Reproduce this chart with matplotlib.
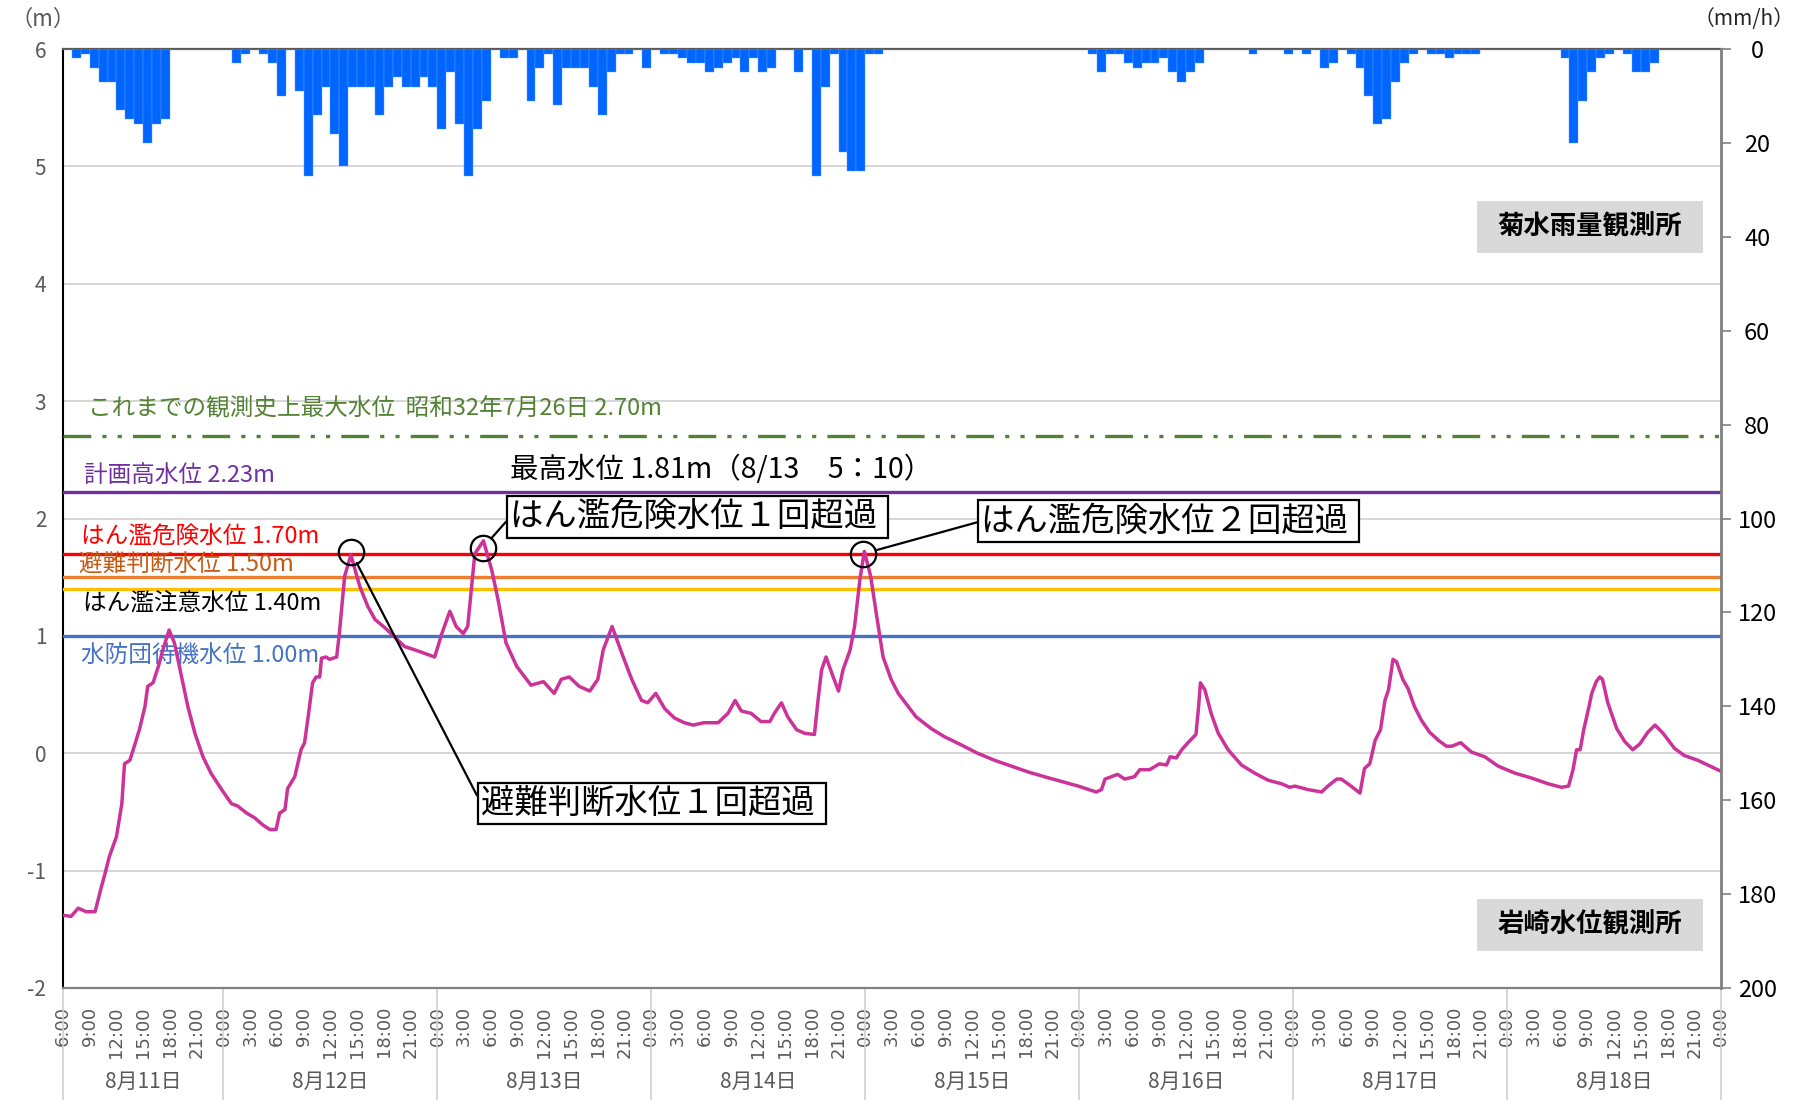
import numpy as np
import matplotlib
matplotlib.use('Agg')
import matplotlib.pyplot as plt
import matplotlib.transforms as mtransforms
from matplotlib.patches import Rectangle

plt.rcParams['font.family'] = ['Noto Sans CJK JP', 'DejaVu Sans']
plt.rcParams['lines.scale_dashes'] = False
plt.rcParams['axes.unicode_minus'] = False

# ---------------- data ----------------
# hourly rainfall (mm/h) at 菊水, hour index from 8/11 6:00
rain = [0, 2, 1, 4, 7, 7, 13, 15, 16, 20,
        16, 15, 0, 0, 0, 0, 0, 0, 0, 3,
        1, 0, 1, 3, 10, 0, 9, 27, 14, 8,
        18, 25, 8, 8, 8, 14, 8, 6, 8, 8,
        6, 8, 17, 5, 16, 27, 17, 11, 0, 2,
        2, 0, 11, 4, 1, 12, 4, 4, 4, 8,
        14, 5, 1, 1, 0, 4, 0, 1, 1, 2,
        3, 3, 5, 4, 3, 2, 5, 2, 5, 4,
        0, 0, 5, 0, 27, 8, 1, 22, 26, 26,
        1, 1, 0, 0, 0, 0, 0, 0, 0, 0,
        0, 0, 0, 0, 0, 0, 0, 0, 0, 0,
        0, 0, 0, 0, 0, 1, 5, 1, 1, 3,
        4, 3, 3, 2, 5, 7, 5, 3, 0, 0,
        0, 0, 0, 1, 0, 0, 0, 1, 0, 1,
        0, 4, 3, 0, 1, 4, 10, 16, 15, 7,
        3, 1, 0, 1, 1, 2, 1, 1, 1, 0,
        0, 0, 0, 0, 0, 0, 0, 0, 2, 20,
        11, 5, 2, 1, 0, 1, 5, 5, 3, 0,
        0, 0, 0, 0, 0, 0]

# water level (m) at 岩崎, hours since 8/11 6:00
level_hours = [0, 0.9, 1.7, 2.6, 3.6, 4.3, 4.7, 5.2, 6.0, 6.6, 6.9, 7.5, 8.0, 8.6, 9.2, 9.5,
               10.1, 10.7, 11.2, 11.9, 12.5, 13.3, 14.0, 14.8, 15.7, 16.6, 17.8, 18.9, 19.6,
               20.6, 21.5, 22.4, 23.2, 23.9, 24.3, 24.9, 25.2, 26.0, 26.7, 27.1, 27.5, 28.0,
               28.4, 28.8, 29.0, 29.5, 29.9, 30.7, 31.0, 31.6, 32.3, 32.7, 33.3, 34.2, 35.0,
               36.1, 37.2, 38.3, 39.5, 40.6, 41.7, 42.5, 43.4, 44.1, 44.9, 45.4, 46.2, 47.17,
               48.1, 48.8, 49.7, 50.9, 51.8, 52.5, 53.9, 55.1, 55.9, 56.8, 57.9, 59.1, 60.0,
               60.6, 61.6, 62.7, 63.8, 64.9, 65.6, 66.5, 67.5, 68.6, 69.7, 70.7, 71.9, 73.5,
               74.6, 75.4, 76.1, 77.2, 78.3, 79.3, 79.8, 80.6, 81.3, 82.3, 83.2, 84.3, 84.7,
               85.1, 85.6, 86.4, 87.0, 87.5, 88.3, 88.8, 89.4, 89.9, 90.6, 91.3, 92.0, 92.9,
               93.7, 94.4, 95.7, 97.4, 98.9, 100.8, 102.6, 104.5, 106.4, 108.3, 110.1, 112.0,
               113.9, 115.9, 116.5, 116.9, 117.6, 118.3, 119.1, 120.2, 120.8, 121.9, 123.0,
               123.8, 124.2, 124.9, 125.5, 126.2, 127.1, 127.4, 127.6, 128.1, 128.8, 129.6,
               130.7, 132.2, 133.7, 135.2, 136.7, 137.6, 138.2, 139.7, 141.2, 141.9, 142.9,
               143.4, 144.5, 145.5, 146.0, 146.6, 147.2, 147.8, 148.3, 148.7, 149.2, 149.6,
               150.3, 150.9, 151.6, 152.4, 153.3, 154.3, 155.2, 155.8, 156.8, 158.0, 159.5,
               161.0, 162.9, 164.7, 166.6, 168.1, 168.9, 169.4, 169.8, 170.2, 170.6, 171.2,
               171.5, 172.0, 172.4, 172.7, 173.3, 174.3, 175.2, 176.1, 176.9, 177.8, 178.6,
               179.5, 180.8, 181.9, 183.4, 184.5, 185.9]
level = [-1.38, -1.39, -1.32, -1.35, -1.35, -1.14, -1.03, -0.88, -0.71, -0.43, -0.09, -0.06,
         0.06, 0.21, 0.40, 0.57, 0.60, 0.74, 0.88, 1.05, 0.94, 0.65, 0.40, 0.17, -0.03, -0.17,
         -0.31, -0.43, -0.45, -0.51, -0.55, -0.61, -0.65, -0.65, -0.51, -0.48, -0.30, -0.20,
         0.03, 0.09, 0.31, 0.60, 0.65, 0.65, 0.81, 0.82, 0.80, 0.82, 1.02, 1.51, 1.69, 1.58,
         1.42, 1.25, 1.14, 1.07, 0.99, 0.91, 0.88, 0.85, 0.82, 1.02, 1.21, 1.08, 1.02, 1.08,
         1.70, 1.81,
         1.56, 1.31, 0.94, 0.74, 0.65, 0.58, 0.61, 0.51, 0.63, 0.65, 0.57, 0.53, 0.63,
         0.88, 1.08, 0.85, 0.63, 0.45, 0.43, 0.51, 0.38, 0.30, 0.26, 0.24, 0.26, 0.26,
         0.34, 0.45, 0.36, 0.34, 0.27, 0.27, 0.34, 0.43, 0.31, 0.20, 0.17, 0.16, 0.45,
         0.71, 0.82, 0.65, 0.53, 0.71, 0.88, 1.08, 1.48, 1.72, 1.51, 1.16, 0.82, 0.63,
         0.51, 0.44, 0.31, 0.21, 0.14, 0.07, 0.00, -0.06, -0.11, -0.16, -0.20, -0.24,
         -0.28, -0.33, -0.31, -0.22, -0.20, -0.18, -0.22, -0.20, -0.14, -0.14, -0.09,
         -0.10, -0.03, -0.04, 0.03, 0.09, 0.16, 0.40, 0.60, 0.54, 0.34, 0.17,
         0.03, -0.10, -0.17, -0.23, -0.26, -0.29, -0.28, -0.31, -0.33, -0.28, -0.22,
         -0.22, -0.28, -0.34, -0.13, -0.09, 0.11, 0.20, 0.45, 0.54, 0.80, 0.78,
         0.63, 0.55, 0.40, 0.28, 0.18, 0.11, 0.06, 0.06, 0.09, 0.01, -0.03,
         -0.11, -0.17, -0.21, -0.26, -0.29, -0.28, -0.14, 0.03, 0.03, 0.20, 0.40,
         0.51, 0.61, 0.65, 0.63, 0.43, 0.21, 0.10, 0.03, 0.08, 0.18, 0.24,
         0.17, 0.04, -0.02, -0.06, -0.10, -0.15]

thresholds = [2.70, 2.23, 1.70, 1.50, 1.40, 1.00]
threshold_colors = ['#548235', '#7030a0', '#ff0000', '#ed7d31', '#ffc000', '#4472c4']
threshold_labels = ['これまでの観測史上最大水位  昭和32年7月26日 2.70m',
                    '計画高水位 2.23m',
                    'はん濫危険水位 1.70m',
                    '避難判断水位 1.50m',
                    'はん濫注意水位 1.40m',
                    '水防団待機水位 1.00m']
label_colors = ['#548235', '#7030a0', '#ff0000', '#c55a11', '#000000', '#4472c4']
label_pos = [(2.8, 2.93), (2.3, 2.37), (2.05, 1.845), (1.75, 1.605), (2.2, 1.27), (2.0, 0.835)]

day_labels = ['8月11日', '8月12日', '8月13日', '8月14日', '8月15日', '8月16日', '8月17日', '8月18日']
day_bounds = [0, 18, 42, 66, 90, 114, 138, 162, 186]

circle_x = [32.3, 47.1, 89.8]
circle_y = [1.717, 1.75, 1.70]
notes = ['避難判断水位１回超過', 'はん濫危険水位１回超過', 'はん濫危険水位２回超過']
note_pos = [(46.9, -0.427), (50.2, 2.015), (103.0, 1.977)]

max_text = '最高水位 1.81m（8/13　5：10）'

# ---------------- figure ----------------
W, H = 1802, 1100
fig = plt.figure(figsize=(W / 100, H / 100), dpi=100)
ax = fig.add_axes([63 / W, 112 / H, 1658 / W, 939 / H])
ax.set_xlim(0, 186)
ax.set_ylim(-2, 6)
ax.set_yticks(range(-2, 7))
ax.grid(axis='y', color='#d0d0d0', lw=1.2)
ax.set_axisbelow(True)
ax.tick_params(axis='y', length=0, pad=12, labelsize=15, labelcolor='#595959')

tick_hours = list(range(0, 187, 3))
ax.set_xticks(tick_hours)
ax.set_xticklabels([f'{(6 + h) % 24}:00' for h in tick_hours], rotation=90,
                   fontsize=13, color='#595959', family='DejaVu Sans')
ax.tick_params(axis='x', length=0, pad=13)

ax.spines['top'].set_color('#595959')
ax.spines['top'].set_linewidth(1.6)
ax.spines['left'].set_color('#000000')
ax.spines['left'].set_linewidth(1.5)
ax.spines['bottom'].set_color('#808080')
ax.spines['bottom'].set_linewidth(1.6)
ax.spines['right'].set_visible(False)

# threshold lines
for i, (v, c) in enumerate(zip(thresholds, threshold_colors)):
    if i == 0:
        ax.axhline(v, color=c, lw=2.4, dashes=(20, 8, 3, 8, 3, 8), dash_capstyle='butt', zorder=3)
    else:
        ax.axhline(v, color=c, lw=2.4, zorder=3)
for t, c, (x, y) in zip(threshold_labels, label_colors, label_pos):
    ax.text(x, y, t, color=c, fontsize=17, ha='left', va='center', zorder=4)

# water level
ax.plot(level_hours, level, color='#cc3399', lw=2.5, zorder=5)

# circles and notes
ax.plot(circle_x, circle_y, 'o', ms=18.3, mfc='none', mec='black', mew=1.6, zorder=6)
for t, (x, y), cx, cy in zip(notes, note_pos, circle_x, circle_y):
    ax.annotate(t + ' ', xy=(cx, cy), xytext=(x, y), textcoords='data', ha='left', va='center',
                fontsize=24, color='black', zorder=7,
                bbox=dict(boxstyle='square,pad=0.1', fc='white', ec='black', lw=1.6),
                arrowprops=dict(arrowstyle='-', color='black', lw=1.6, shrinkA=0, shrinkB=9.1,
                                relpos=(0, 0.5)))

ax.text(50.2, 2.416, max_text, fontsize=20.5, ha='left', va='center', color='black', zorder=7)

# day labels and separators
trans = mtransforms.blended_transform_factory(ax.transData, ax.transAxes)
for b in day_bounds:
    ax.plot([b, b], [0, -0.125], transform=trans, color='#d0d0d0', lw=1.2, clip_on=False)
for lab, b0, b1 in zip(day_labels, day_bounds[:-1], day_bounds[1:]):
    ax.text((b0 + b1) / 2, -0.1, lab, transform=trans, ha='center', va='center',
            fontsize=15, color='#595959')

# station boxes
for (y0, name) in [(0.7827, '菊水雨量観測所'), (0.0394, '岩崎水位観測所')]:
    ax.add_patch(Rectangle((0.8528, y0), 0.1363, 0.0554, transform=ax.transAxes,
                           fc='#d9d9d9', ec='none', zorder=8))
    ax.text(0.8528 + 0.1363 / 2, y0 + 0.0554 / 2, name, transform=ax.transAxes,
            ha='center', va='center', fontsize=19, fontweight='bold', color='black', zorder=9)

# rainfall on secondary axis
ax2 = ax.twinx()
ax2.set_ylim(200, 0)
ax2.set_yticks(range(0, 201, 20))
ax2.bar(np.arange(len(rain)), rain, width=1.0, align='edge', color='#0066ff',
        edgecolor='#5c9dff', linewidth=0.3, zorder=2)
ax2.tick_params(axis='y', length=7, width=1.2, color='#808080', pad=19,
                labelsize=17, labelcolor='black')
for lbl in ax2.get_yticklabels():
    lbl.set_horizontalalignment('center')
for s in ['top', 'left', 'bottom']:
    ax2.spines[s].set_visible(False)
ax2.spines['right'].set_color('#808080')
ax2.spines['right'].set_linewidth(2)

fig.text(10 / W, 1 - 19 / H, '（m）', fontsize=16, color='#595959', ha='left', va='center')
fig.text(1795 / W, 1 - 19 / H, '（mm/h）', fontsize=15, color='#262626', ha='right', va='center')

fig.savefig('out.png', dpi=100)
